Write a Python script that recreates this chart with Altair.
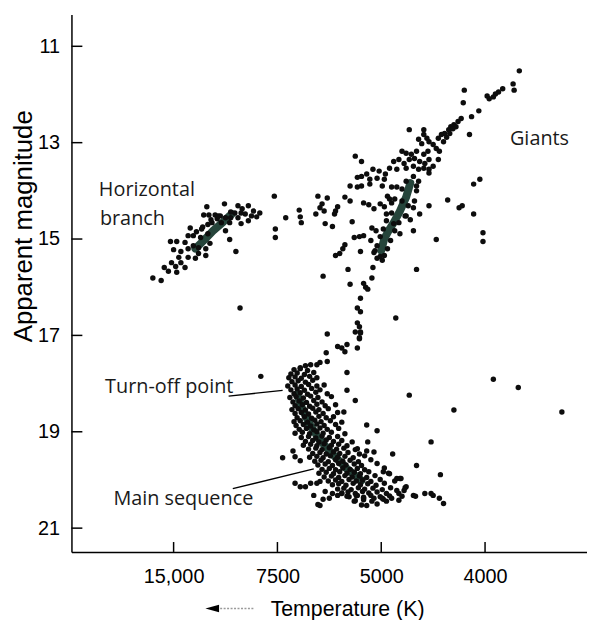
import altair as alt
import pandas as pd

# ---- axis ticks -------------------------------------------------------
x_tick_pos = [1, 2, 3, 4]
x_tick_labels = ["15,000", "7500", "5000", "4000"]
y_ticks = [11, 13, 15, 17, 19, 21]

# ---- stars (x = position on temperature scale, m = apparent magnitude) --
hb_u = [1.32, 1.49, 1.62, 1.72, 1.29, 1.34, 1.40, 1.55, 1.59, 1.65, 1.69, 1.75, 1.80, 1.50, 1.55,
        1.62, 1.46, 1.54, 1.65, 1.72, 1.16, 1.50, 1.19, 1.26, 0.97, 1.03, 1.11, 1.54, 1.19, 1.24,
        1.31, 1.35, 1.00, 1.07, 1.14, 1.60, 1.24, 1.31, 1.05, 1.14, 1.21, 0.98, 1.07, 0.91, 1.02,
        1.11, 0.95, 1.03, 0.80, 0.88, 1.97, 1.98, 1.98, 1.64, 1.83, 1.36, 1.42, 1.28, 1.22, 1.33, 1.45,
        1.37, 1.43, 1.27, 1.33, 1.14, 1.66, 1.77]
hb_m = [14.33, 14.27, 14.31, 14.31, 14.50, 14.50, 14.50, 14.44, 14.46, 14.46, 14.48, 14.52, 14.54, 14.56, 14.56,
        14.56, 14.66, 14.66, 14.68, 14.62, 14.77, 14.83, 14.93, 14.97, 15.05, 15.05, 15.07, 15.01, 15.14, 15.18,
        15.20, 15.09, 15.22, 15.26, 15.20, 15.26, 15.30, 15.34, 15.38, 15.38, 15.40, 15.49, 15.49, 15.59, 15.57,
        15.59, 15.67, 15.69, 15.81, 15.86, 14.11, 14.79, 14.97, 16.43, 14.46, 14.60, 14.58, 14.75, 14.85, 14.70, 14.52,
        14.66, 14.52, 14.79, 14.89, 14.93, 14.37, 14.42]

mid_u = [2.39, 2.48, 2.65, 2.70, 2.43, 2.41, 2.45, 2.58, 2.56, 2.55, 2.21, 2.37, 2.08, 2.22, 2.23,
         2.72, 2.46, 2.53, 2.74, 2.79, 2.83, 2.90, 2.65, 2.63, 2.60, 2.56, 2.80, 2.93, 2.96, 3.01,
         2.99, 2.92, 2.68, 3.34, 2.44, 2.91, 2.83, 2.85, 2.87, 2.70, 2.80, 2.77, 2.80, 3.14, 2.77,
         2.79, 2.80, 2.48, 2.79]
mid_m = [14.11, 14.15, 14.13, 14.21, 14.27, 14.35, 14.42, 14.33, 14.42, 14.48, 14.40, 14.48, 14.56, 14.54, 14.66,
         14.64, 14.68, 14.74, 14.97, 14.95, 14.93, 15.03, 15.12, 15.20, 15.30, 15.34, 15.26, 15.28, 15.40, 15.44,
         15.36, 15.59, 15.63, 15.63, 15.77, 15.81, 15.92, 16.00, 16.04, 15.94, 16.23, 16.43, 16.51, 16.64, 16.74,
         16.82, 16.93, 16.97, 17.05]

rgb_u = [2.83, 2.88, 2.93, 2.99, 3.03, 3.06, 3.08, 3.32, 3.31, 3.37, 3.46, 3.64, 3.75, 3.78, 3.89,
         2.91, 2.95, 3.28, 3.31, 3.18, 3.53, 3.98, 3.98, 3.05, 3.12, 2.94, 3.24, 3.20,
         3.20, 3.34, 3.13, 3.26, 3.10, 3.23, 3.05, 3.17, 3.02, 3.13, 2.99, 3.09, 2.96, 3.06, 3.03,
         3.10, 3.34, 3.24]
rgb_m = [14.25, 14.29, 14.37, 14.27, 14.33, 14.11, 14.17, 14.21, 14.35, 14.48, 14.31, 14.19, 14.35, 14.31, 14.48,
         14.77, 14.83, 14.60, 14.83, 14.89, 15.01, 14.87, 15.05, 14.48, 14.68, 15.24, 14.52, 14.21,
         13.96, 14.00, 14.17, 14.31, 14.46, 14.52, 14.62, 14.66, 14.79, 14.83, 14.95, 15.03, 15.14, 15.20, 15.34,
         14.25, 13.90, 13.80]

giant_u = [4.33, 4.27, 4.28, 4.17, 4.13, 4.10, 4.08, 4.04, 4.02, 3.80, 3.79, 3.94, 3.87, 3.77, 3.74,
           3.70, 3.67, 3.65, 3.61, 3.58, 3.55, 3.72, 3.69, 3.66, 3.63, 3.60, 3.85, 3.27, 3.41, 3.41,
           3.44, 3.46, 3.36, 3.39, 3.50, 3.53, 3.56, 3.20, 3.24, 3.29, 3.34, 3.41, 3.45, 3.12, 3.17,
           3.22, 3.27, 3.32, 3.37, 3.42, 3.46, 3.55, 2.75, 2.81, 2.92, 2.98, 3.08, 3.15, 3.24, 3.31,
           3.36, 3.41, 3.46, 3.50, 2.77, 2.81, 2.86, 2.89, 2.96, 3.03, 3.31, 3.36, 2.70, 2.77, 2.81,
           2.89, 3.01, 3.10, 3.15, 3.89, 3.95, 3.04, 3.46]
giant_m = [11.51, 11.78, 11.91, 11.88, 11.95, 11.99, 12.05, 12.09, 12.03, 11.91, 12.17, 12.34, 12.46, 12.50, 12.56,
           12.63, 12.67, 12.73, 12.81, 12.83, 12.91, 12.67, 12.71, 12.81, 12.89, 12.98, 12.83, 12.73, 12.73, 12.83,
           12.91, 12.98, 12.93, 13.02, 13.04, 13.12, 13.18, 13.18, 13.22, 13.24, 13.18, 13.24, 13.18, 13.39, 13.35,
           13.43, 13.35, 13.33, 13.39, 13.43, 13.35, 13.35, 13.28, 13.39, 13.55, 13.59, 13.53, 13.55, 13.53, 13.49,
           13.55, 13.53, 13.55, 13.49, 13.72, 13.70, 13.65, 13.76, 13.74, 13.76, 13.70, 13.80, 13.90, 13.92, 13.90,
           13.86, 13.90, 13.92, 13.92, 13.86, 13.76, 13.65, 13.63]

sgb_u = [2.75, 2.80, 2.79, 2.67, 2.62, 2.58, 2.77, 2.65, 2.47, 2.48, 2.41, 2.38, 2.32, 2.27, 2.22,
         2.67, 2.67, 2.75, 3.27, 2.64]
sgb_m = [16.93, 16.95, 17.07, 17.19, 17.26, 17.23, 17.26, 17.34, 17.36, 17.54, 17.56, 17.61, 17.61, 17.63, 17.67,
         17.77, 18.14, 18.35, 18.24, 18.59]

ms_u = [2.16, 2.22, 2.29,
        2.13, 2.19, 2.26, 2.35,
        2.11, 2.17, 2.23, 2.31, 2.38,
        2.14, 2.20, 2.27, 2.34,
        2.10, 2.17, 2.23, 2.30, 2.38, 2.45,
        2.13, 2.19, 2.26, 2.33, 2.41,
        2.16, 2.22, 2.29, 2.37, 2.48,
        2.12, 2.18, 2.25, 2.32, 2.39, 2.52,
        2.15, 2.21, 2.28, 2.35, 2.43,
        2.17, 2.24, 2.31, 2.38, 2.46, 2.56,
        2.14, 2.20, 2.27, 2.34, 2.40, 2.49,
        2.17, 2.23, 2.30, 2.37, 2.44, 2.58,
        2.19, 2.26, 2.33, 2.40, 2.47, 2.54,
        2.16, 2.22, 2.29, 2.36, 2.42, 2.51, 2.62,
        2.18, 2.25, 2.32, 2.38, 2.45, 2.56,
        2.21, 2.28, 2.35, 2.41, 2.48, 2.59,
        2.17, 2.24, 2.31, 2.38, 2.44, 2.52, 2.65,
        2.23, 2.30, 2.37, 2.43, 2.50, 2.58,
        2.27, 2.34, 2.40, 2.47, 2.54, 2.62, 2.72,
        2.25, 2.32, 2.38, 2.45, 2.52, 2.59, 2.67,
        2.30, 2.37, 2.43, 2.50, 2.57, 2.64, 2.75,
        2.34, 2.41, 2.47, 2.54, 2.60, 2.68, 2.79,
        2.31, 2.38, 2.44, 2.51, 2.58, 2.65, 2.73, 2.84,
        2.36, 2.42, 2.49, 2.56, 2.63, 2.70, 2.78, 2.90,
        2.39, 2.46, 2.53, 2.59, 2.66, 2.74, 2.81, 2.96,
        2.43, 2.50, 2.56, 2.63, 2.70, 2.77, 2.84, 3.03,
        2.40, 2.47, 2.54, 2.60, 2.67, 2.74, 2.80, 2.88, 3.07,
        2.45, 2.52, 2.59, 2.65, 2.72, 2.79, 2.86, 2.94,
        2.49, 2.56, 2.62, 2.69, 2.76, 2.82, 2.90, 2.99, 3.13,
        2.53, 2.59, 2.66, 2.73, 2.80, 2.87, 2.95, 3.03,
        2.58, 2.64, 2.71, 2.78, 2.84, 2.92, 3.01, 3.09,
        2.62, 2.68, 2.75, 2.82, 2.88, 2.96, 3.05,
        2.69, 2.76, 2.83, 2.90, 2.99, 3.08,
        2.75, 2.83, 2.91, 3.02,
        2.81, 2.96]
ms_m = [17.71, 17.69, 17.73,
        17.80, 17.78, 17.81, 17.77,
        17.88, 17.86, 17.89, 17.85, 17.88,
        17.96, 17.94, 17.97, 17.93,
        18.05, 18.03, 18.06, 18.02, 18.05, 18.03,
        18.13, 18.11, 18.14, 18.10, 18.13,
        18.21, 18.19, 18.22, 18.18, 18.21,
        18.29, 18.27, 18.30, 18.26, 18.29, 18.27,
        18.38, 18.36, 18.39, 18.35, 18.38,
        18.46, 18.44, 18.47, 18.43, 18.46, 18.44,
        18.54, 18.52, 18.55, 18.51, 18.54, 18.52,
        18.62, 18.60, 18.63, 18.59, 18.62, 18.60,
        18.71, 18.69, 18.72, 18.68, 18.71, 18.69,
        18.79, 18.77, 18.80, 18.76, 18.79, 18.77, 18.80,
        18.87, 18.85, 18.88, 18.84, 18.87, 18.85,
        18.95, 18.93, 18.96, 18.92, 18.95, 18.93,
        19.03, 19.01, 19.04, 19.00, 19.03, 19.01, 19.04,
        19.12, 19.10, 19.13, 19.09, 19.12, 19.10,
        19.20, 19.18, 19.21, 19.17, 19.20, 19.18, 19.21,
        19.28, 19.26, 19.29, 19.25, 19.28, 19.26, 19.29,
        19.36, 19.34, 19.37, 19.33, 19.36, 19.34, 19.37,
        19.45, 19.43, 19.46, 19.42, 19.45, 19.43, 19.46,
        19.53, 19.51, 19.54, 19.50, 19.53, 19.51, 19.54, 19.50,
        19.61, 19.59, 19.62, 19.58, 19.61, 19.59, 19.62, 19.58,
        19.69, 19.67, 19.70, 19.66, 19.69, 19.67, 19.70, 19.66,
        19.78, 19.76, 19.79, 19.75, 19.78, 19.76, 19.79, 19.75,
        19.86, 19.84, 19.87, 19.83, 19.86, 19.84, 19.87, 19.83, 19.86,
        19.94, 19.92, 19.95, 19.91, 19.94, 19.92, 19.95, 19.91,
        20.02, 20.00, 20.03, 19.99, 20.02, 20.00, 20.03, 19.99, 20.02,
        20.10, 20.08, 20.11, 20.07, 20.10, 20.08, 20.11, 20.07,
        20.19, 20.17, 20.20, 20.16, 20.19, 20.17, 20.20, 20.16,
        20.27, 20.25, 20.28, 20.24, 20.27, 20.25, 20.28,
        20.35, 20.33, 20.36, 20.32, 20.35, 20.33,
        20.43, 20.41, 20.44, 20.40,
        20.52, 20.50]

scatter_u = [2.05, 2.15, 2.17, 2.22, 2.17, 2.22, 2.27, 2.32, 2.38, 2.41, 2.35, 2.39, 2.44, 2.50, 2.41,
             2.46, 2.53, 2.58, 2.62, 2.67, 2.74, 2.77, 2.83, 2.86, 2.93, 3.01, 3.05, 3.10, 3.17, 3.22,
             3.24, 3.31, 3.42, 3.48, 3.56, 3.60, 2.86, 2.96, 2.87, 3.11, 3.34, 3.48, 3.57, 2.77, 2.86,
             2.93, 3.02, 3.08, 3.15, 3.18, 3.19, 3.23, 3.20, 3.17, 3.15, 3.33, 3.50,
             1.84, 4.08, 4.32, 4.74, 3.70]
scatter_m = [19.54, 19.40, 19.52, 19.60, 20.07, 20.14, 20.14, 20.07, 20.07, 20.03, 20.32, 20.51, 20.40, 20.38, 20.53,
             20.24, 20.28, 20.32, 20.28, 20.34, 20.44, 20.32, 20.38, 20.53, 20.38, 20.38, 20.44, 20.38, 20.28, 20.22,
             20.14, 20.32, 20.28, 20.28, 20.38, 20.49, 18.86, 18.98, 19.21, 19.46, 19.70, 19.21, 19.89, 19.35, 19.40,
             19.42, 19.83, 19.87, 19.97, 19.97, 19.97, 20.16, 20.34, 20.42, 20.22, 20.34, 20.32,
             17.85, 17.91, 18.08, 18.59, 18.55]

# dense clumps (drawn as merged bands)
band_names = ["hb"] * 5 + ["rgb"] * 7 + ["ms"] * 7
band_u = [1.21, 1.29, 1.38, 1.48, 1.56,
          3.28, 3.24, 3.18, 3.12, 3.07, 3.03, 3.00,
          2.19, 2.24, 2.31, 2.40, 2.53, 2.67, 2.81]
band_m = [15.20, 15.03, 14.83, 14.64, 14.48,
          13.84, 14.13, 14.42, 14.66, 14.83, 14.99, 15.24,
          18.22, 18.53, 18.84, 19.15, 19.46, 19.77, 20.01]

# annotations
note_text = ["Horizontal", "branch", "Giants", "Turn-off point", "Main sequence"]
note_u = [0.28, 0.29, 4.24, 0.34, 0.42]
note_m = [14.11, 14.70, 13.04, 18.20, 20.51]
pointer_u = [1.53, 1.57]
pointer_u2 = [2.05, 2.35]
pointer_m = [18.26, 20.18]
pointer_m2 = [18.14, 19.77]

# ---- build tables ------------------------------------------------------
stars = pd.DataFrame({
    "u": hb_u + mid_u + rgb_u + giant_u + sgb_u + ms_u + scatter_u,
    "m": hb_m + mid_m + rgb_m + giant_m + sgb_m + ms_m + scatter_m,
})
bands = pd.DataFrame({"band": band_names, "u": band_u, "m": band_m,
                      "order": list(range(len(band_u)))})
notes = pd.DataFrame({"text": note_text, "u": note_u, "m": note_m})
pointers = pd.DataFrame({"u": pointer_u, "u2": pointer_u2, "m": pointer_m, "m2": pointer_m2})
yt = pd.DataFrame({"m": y_ticks})
xt = pd.DataFrame({"u": x_tick_pos})
one = pd.DataFrame({"k": [0]})

xscale = alt.Scale(domain=[0.016, 4.982], nice=False, zero=False)
yscale = alt.Scale(domain=[10.342, 21.494], reverse=True, nice=False, zero=False)

label_expr = " : ".join(
    f"datum.value == {p} ? '{l}'" for p, l in zip(x_tick_pos, x_tick_labels)) + " : ''"

x_axis = alt.Axis(values=x_tick_pos, labelExpr=label_expr, ticks=False, grid=False,
                  domainColor="black", domainWidth=1.5, labelPadding=15,
                  labelFont="Liberation Sans", labelFontSize=20, labelColor="black",
                  title="Temperature (K)", titleFont="Liberation Sans", titleFontSize=21.5,
                  titleFontWeight="normal", titleColor="black", titleX=278, titleY=64,
                  titleBaseline="alphabetic", titleAlign="center")
y_axis = alt.Axis(values=y_ticks, ticks=False, grid=False, domainColor="black", domainWidth=1.5,
                  labelPadding=12, labelFont="Liberation Sans", labelFontSize=20, labelColor="black",
                  title="Apparent magnitude", titleFont="Liberation Sans", titleFontSize=26,
                  titleFontWeight="normal", titleColor="black", titleAngle=270, titleX=-40,
                  titleY=213, titleBaseline="alphabetic", titleAlign="center")


def X(field):
    return alt.X(field, scale=xscale, axis=x_axis)


def Y(field):
    return alt.Y(field, scale=yscale, axis=y_axis)


band_layer = alt.Chart(bands).mark_line(strokeWidth=8, strokeCap="round", strokeJoin="round",
                                        color="#26453b").encode(
    x=X("u:Q"), y=Y("m:Q"), detail="band:N", order="order:Q")

star_layer = alt.Chart(stars).mark_circle(size=30, color="#0d0d0d", opacity=1).encode(
    x=X("u:Q"), y=Y("m:Q"))

ytick_layer = alt.Chart(yt).mark_rule(color="black", strokeWidth=1.5).encode(
    y=Y("m:Q"), x=alt.value(0), x2=alt.value(11))
xtick_layer = alt.Chart(xt).mark_rule(color="black", strokeWidth=1.5).encode(
    x=X("u:Q"), y=alt.value(542), y2=alt.value(532))

note_layer = alt.Chart(notes).mark_text(align="left", baseline="alphabetic", font="Open Sans",
                                        fontSize=20, color="#1a1a1a").encode(
    x=X("u:Q"), y=Y("m:Q"), text="text:N")

pointer_layer = alt.Chart(pointers).mark_rule(color="black", strokeWidth=1.4).encode(
    x=X("u:Q"), x2="u2:Q", y=Y("m:Q"), y2="m2:Q")

arrow_head = alt.Chart(one).mark_point(
    shape="M 1 -0.55 L -1 0 L 1 0.55 Z", filled=True, color="black", size=190, opacity=1).encode(
    x=alt.value(142), y=alt.value(599))
arrow_tail = alt.Chart(one).mark_rule(color="#9a9a9a", strokeWidth=1.5, strokeDash=[2, 1.5]).encode(
    x=alt.value(150), x2=alt.value(184), y=alt.value(599))

chart = alt.layer(band_layer, star_layer, ytick_layer, xtick_layer, note_layer, pointer_layer,
                  arrow_head, arrow_tail).properties(
    width=520, height=542,
    padding={"left": 64, "top": 4, "right": 0, "bottom": 66},
    autosize=alt.AutoSizeParams(type="none"),
).configure_view(strokeWidth=0)

chart.save("out.html", embed_options={"renderer": "svg", "actions": False})
